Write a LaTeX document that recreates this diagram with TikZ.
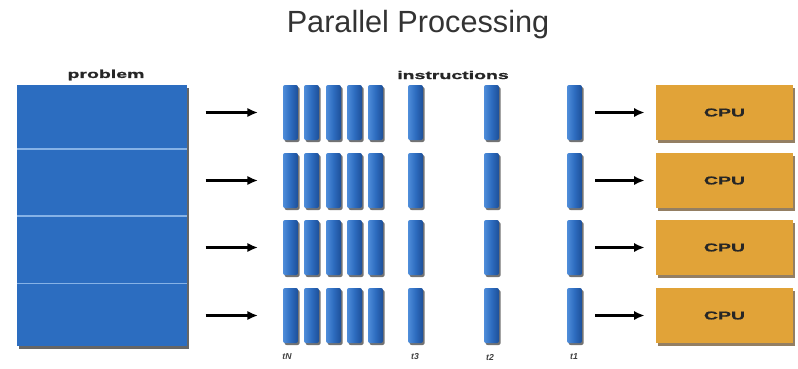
\documentclass[tikz,border=0pt]{standalone}
\usepackage{fontspec}
\setmainfont{Liberation Sans}
\newfontfamily\widebold{Liberation Sans}[FakeStretch=1.72, BoldFeatures={FakeBold=1.2}]
\usetikzlibrary{arrows.meta,shadows,calc}

\definecolor{probblue}{HTML}{2C6DC0}
\definecolor{sepline}{HTML}{86B2E6}
\definecolor{barblue}{HTML}{2D6CBF}
\definecolor{barlight}{HTML}{4F8DDA}
\definecolor{bardark}{HTML}{1D4F99}
\definecolor{cpuorange}{HTML}{E1A338}
\definecolor{cpushadow}{HTML}{5A3A10}

\tikzset{
  probbox/.style={anchor=north west, inner sep=0pt, outer sep=0pt,
    minimum width=170*0.75pt, minimum height=261*0.75pt, fill=probblue,
    drop shadow={shadow xshift=1.2pt, shadow yshift=-2pt, fill=black, opacity=0.6}},
  separator/.style={draw=sepline, line width=0.9pt},
  instrbar/.style={anchor=north west, inner sep=0pt, outer sep=0pt,
    minimum width=15*0.75pt, minimum height=55*0.75pt, rounded corners=1.5pt,
    left color=barlight, right color=bardark, middle color=barblue,
    drop shadow={shadow xshift=1.2pt, shadow yshift=-1.5pt, fill=black, opacity=0.55}},
  cpubox/.style={anchor=north west, inner sep=0pt, outer sep=0pt,
    minimum width=137*0.75pt, minimum height=55*0.75pt, fill=cpuorange,
    font=\widebold\bfseries\fontsize{8.5}{10}\selectfont, text=black!85,
    drop shadow={shadow xshift=1.5pt, shadow yshift=-2.2pt, fill=cpushadow, opacity=0.65}},
  headlabel/.style={font=\widebold\bfseries\fontsize{8.5}{10}\selectfont, text=black!85, inner sep=0pt},
  steplabel/.style={font=\bfseries\itshape\fontsize{6.5}{7}\selectfont, text=black!75, inner sep=0pt},
  arr/.style={draw=black, line width=2pt, -{Latex[length=8pt, width=7pt]}},
}

\begin{document}
\begin{tikzpicture}[x=0.75pt, y=-0.75pt]
  \useasboundingbox (0,0) rectangle (798,368);

  % title
  \node[font=\fontsize{23}{27}\selectfont, text=black!80, anchor=base] (title) at (418,32) {Parallel Processing};

  % the problem, split into four parts
  \node[probbox] (prob) at (17,85) {};
  \foreach \f in {0.245,0.502,0.759}
    \draw[separator] ($(prob.north west)!\f!(prob.south west)$) -- ($(prob.north east)!\f!(prob.south east)$);
  \node[headlabel] (problabel) at (106,75) {problem};

  % instruction streams: one row of bars per part
  \node[headlabel] (instrlabel) at (453,75) {instructions};
  \foreach \r/\top in {1/85,2/153,3/220,4/288} {
    \foreach \c/\x in {1/283,2/304,3/326,4/347,5/368,6/408,7/484,8/567}
      \node[instrbar] (b-\r-\c) at (\x,\top) {};
    \node[cpubox] (cpu-\r) at (656,\top) {CPU};
    \draw[arr, shorten <=14pt, shorten >=18.75pt] (prob.east |- b-\r-1.west) -- (b-\r-1.west);
    \draw[arr, shorten <=10pt, shorten >=8.5pt] (b-\r-8.east) -- (cpu-\r.west);
  }

  % time step labels
  \node[steplabel] (tN) at (287,357) {tN};
  \node[steplabel] (t3) at (415,357) {t3};
  \node[steplabel] (t2) at (490,357) {t2};
  \node[steplabel] (t1) at (574,357) {t1};
\end{tikzpicture}
\end{document}
